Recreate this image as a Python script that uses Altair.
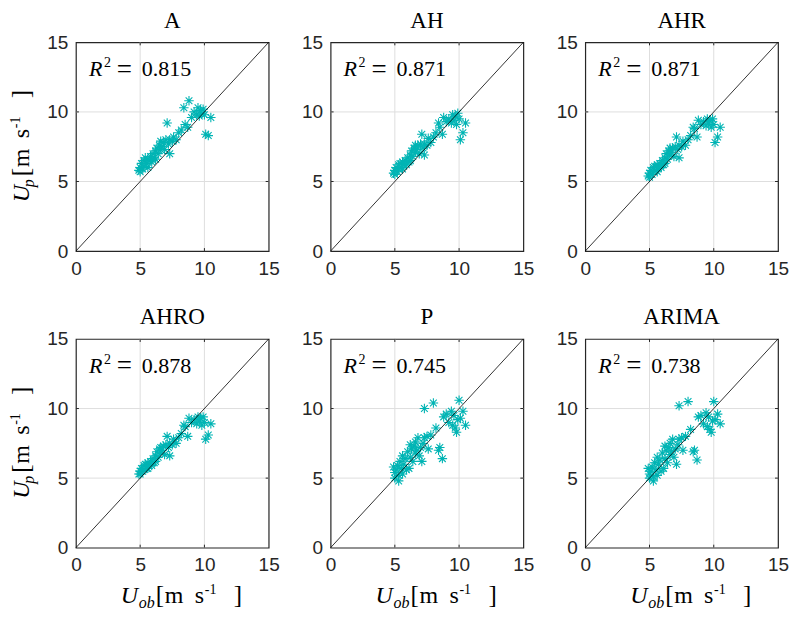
import altair as alt
import pandas as pd

PANELS = ["A", "AH", "AHR", "AHRO", "P", "ARIMA"]
R2_VALUES = ["0.815", "0.871", "0.871", "0.878", "0.745", "0.738"]

OBS = [4.9, 5.0, 5.0, 5.1, 5.2, 5.3, 5.3, 5.4, 5.5, 5.6,
       5.6, 5.7, 5.8, 5.9, 6.0, 6.1, 6.2, 6.2, 6.3, 6.4,
       6.5, 6.6, 6.6, 6.7, 6.8, 6.9, 7.0, 7.1, 7.2, 7.3,
       7.3, 7.5, 7.6, 7.8, 8.0, 8.2, 8.5, 8.7, 8.8, 9.0,
       9.2, 9.4, 9.5, 9.6, 9.7, 9.8, 9.9, 10.0, 10.1, 10.3,
       10.5, 8.4]

PRED_A = [5.8, 6.0, 5.7, 6.3, 5.9, 6.5, 6.1, 6.7, 6.3, 6.6,
          6.0, 6.5, 6.8, 6.4, 7.0, 6.7, 7.2, 6.6, 7.4, 7.0,
          7.6, 7.3, 7.9, 7.5, 7.8, 7.3, 8.0, 9.2, 7.7, 7.0,
          8.0, 7.9, 8.2, 8.0, 8.5, 8.7, 9.1, 8.9, 10.8, 9.6,
          10.0, 9.8, 10.3, 9.7, 10.1, 9.9, 10.2, 9.8, 8.4, 8.3,
          9.6, 10.3]
PRED_AH = [5.6, 5.8, 5.5, 6.0, 5.7, 6.2, 5.9, 6.3, 6.0, 6.4,
           5.9, 6.2, 6.5, 6.2, 6.7, 6.4, 6.9, 6.5, 7.2, 6.8,
           7.4, 7.1, 7.6, 7.3, 7.6, 7.0, 7.7, 8.4, 7.4, 6.9,
           7.7, 7.6, 8.1, 7.8, 8.2, 8.5, 8.9, 8.4, 9.6, 9.3,
           9.5, 9.2, 9.8, 9.4, 9.7, 9.1, 9.9, 9.5, 8.0, 8.5,
           9.2, 9.2]
PRED_AHR = [5.4, 5.6, 5.3, 5.8, 5.5, 6.0, 5.7, 6.1, 5.8, 6.2,
            5.7, 6.0, 6.3, 6.0, 6.5, 6.2, 6.7, 6.3, 7.0, 6.6,
            7.2, 6.9, 7.4, 7.1, 7.4, 6.8, 7.5, 8.2, 7.3, 6.7,
            7.6, 7.5, 7.9, 7.6, 8.0, 8.3, 8.8, 8.2, 9.4, 9.1,
            9.3, 9.0, 9.5, 9.2, 9.4, 8.9, 9.5, 9.1, 7.8, 8.2,
            8.9, 8.9]
PRED_AHRO = [5.3, 5.5, 5.3, 5.7, 5.5, 5.9, 5.6, 6.0, 5.7, 6.1,
             5.7, 5.9, 6.2, 5.9, 6.4, 6.1, 6.6, 6.2, 6.9, 6.5,
             7.1, 6.8, 7.2, 7.0, 7.3, 6.7, 7.4, 8.0, 7.2, 6.6,
             7.5, 7.4, 7.8, 7.5, 7.9, 8.2, 8.7, 8.0, 9.3, 9.0,
             9.2, 8.9, 9.4, 9.1, 9.3, 8.8, 9.4, 9.0, 7.8, 8.1,
             8.9, 8.8]
PRED_P = [5.8, 5.4, 5.0, 5.6, 5.9, 4.8, 5.2, 6.2, 5.7, 6.6,
          5.3, 6.0, 6.4, 5.6, 6.9, 5.7, 7.4, 6.5, 7.1, 6.2,
          7.3, 6.8, 7.6, 7.0, 7.9, 6.6, 7.2, 6.2, 7.5, 10.0,
          7.9, 8.0, 7.1, 8.1, 10.4, 8.6, 7.2, 6.4, 9.4, 9.6,
          9.0, 9.8, 8.8, 9.5, 8.6, 8.3, 9.2, 10.6, 9.3, 9.8,
          8.8, 7.0]
PRED_ARIMA = [5.7, 5.3, 5.0, 5.5, 5.8, 4.8, 5.1, 6.1, 5.6, 6.5,
              5.2, 6.0, 6.3, 5.5, 6.8, 5.7, 7.3, 6.4, 7.0, 6.1,
              7.2, 6.7, 7.5, 6.9, 7.8, 6.5, 7.1, 6.0, 7.4, 10.2,
              7.8, 7.9, 7.0, 8.0, 10.5, 8.5, 7.0, 6.3, 9.4, 9.5,
              8.9, 9.7, 8.7, 9.4, 8.5, 8.3, 9.1, 10.5, 9.2, 9.6,
              8.9, 6.9]
PREDS = [PRED_A, PRED_AH, PRED_AHR, PRED_AHRO, PRED_P, PRED_ARIMA]

AXIS_TICKS = [0, 5, 10, 15]
INNER_TICKS = [5, 10]
DIAG = [0, 15]

W, H = 193, 209
TEAL = "#00b4b4"
DARK = "#262626"
SERIF = "Liberation Serif"
SANS = "Liberation Sans"
ASTERISK = "M-1,0L1,0M0,-1L0,1M-0.71,-0.71L0.71,0.71M-0.71,0.71L0.71,-0.71"

XS = alt.Scale(domain=[0, 15], nice=False, zero=False)
YS = alt.Scale(domain=[0, 15], nice=False, zero=False)
X_AX = alt.Axis(values=AXIS_TICKS, title=None, grid=False, ticks=False, domain=False,
                labelFont=SANS, labelFontSize=19, labelColor=DARK, labelPadding=8,
                labelFlush=False, labelOverlap=False, format="d")
Y_AX = alt.Axis(values=AXIS_TICKS, title=None, grid=False, ticks=False, domain=False,
                labelFont=SANS, labelFontSize=19, labelColor=DARK, labelPadding=8,
                labelFlush=False, labelOverlap=False, format="d")

ONE = pd.DataFrame({"k": [0]})
TICK_DF = pd.DataFrame({"t": INNER_TICKS})
DIAG_DF = pd.DataFrame({"v": DIAG})


def txt(s, x, y, size, italic=False, angle=None, align="left"):
    kw = dict(align=align, baseline="alphabetic", font=SERIF, fontSize=size, color="black")
    if italic:
        kw["fontStyle"] = "italic"
    if angle is not None:
        kw["angle"] = angle
    return alt.Chart(ONE).mark_text(**kw).encode(
        x=alt.value(x), y=alt.value(y), text=alt.value(s))


def panel(i, show_x_title, show_y_title):
    df = pd.DataFrame({"obs": OBS, "pred": PREDS[i]})
    layers = []
    # grid
    layers.append(alt.Chart(TICK_DF).mark_rule(color="#dedede", strokeWidth=1).encode(
        x=alt.X("t:Q", scale=XS, axis=X_AX)))
    layers.append(alt.Chart(TICK_DF).mark_rule(color="#dedede", strokeWidth=1).encode(
        y=alt.Y("t:Q", scale=YS, axis=Y_AX)))
    # points
    layers.append(alt.Chart(df).mark_point(shape=ASTERISK, filled=False, size=90,
                                           strokeWidth=1.1, color=TEAL, opacity=1).encode(
        x=alt.X("obs:Q", scale=XS, axis=X_AX),
        y=alt.Y("pred:Q", scale=YS, axis=Y_AX)))
    # 1:1 line
    layers.append(alt.Chart(DIAG_DF).mark_line(color="black", strokeWidth=0.8).encode(
        x=alt.X("v:Q", scale=XS, axis=X_AX),
        y=alt.Y("v:Q", scale=YS, axis=Y_AX)))
    # inward ticks
    layers.append(alt.Chart(TICK_DF).mark_rule(color=DARK, strokeWidth=1).encode(
        x=alt.X("t:Q", scale=XS, axis=X_AX), y=alt.value(H), y2=alt.value(H - 3)))
    layers.append(alt.Chart(TICK_DF).mark_rule(color=DARK, strokeWidth=1).encode(
        x=alt.X("t:Q", scale=XS, axis=X_AX), y=alt.value(0), y2=alt.value(3)))
    layers.append(alt.Chart(TICK_DF).mark_rule(color=DARK, strokeWidth=1).encode(
        y=alt.Y("t:Q", scale=YS, axis=Y_AX), x=alt.value(0), x2=alt.value(3)))
    layers.append(alt.Chart(TICK_DF).mark_rule(color=DARK, strokeWidth=1).encode(
        y=alt.Y("t:Q", scale=YS, axis=Y_AX), x=alt.value(W), x2=alt.value(W - 3)))
    # panel title
    layers.append(txt(PANELS[i], W / 2, -14.5, 23, align="center"))
    # R^2 annotation
    layers.append(txt("R", 13, 34, 22, italic=True))
    layers.append(txt("2", 28, 25, 14))
    layers.append(txt("=", 41, 35.5, 27))
    layers.append(txt(R2_VALUES[i], 66, 34, 22))
    if show_x_title:
        b = H + 55
        layers += [
            txt("U", 45, b, 24, italic=True),
            txt("ob", 63, b + 5, 16, italic=True),
            txt("[", 80, b, 25),
            txt("m", 89, b, 24),
            txt("s", 119, b, 24),
            txt("-1", 129, b - 9, 14),
            txt("]", 158, b, 25),
        ]
    if show_y_title:
        bx = -47
        layers += [
            txt("U", bx, 160, 24, italic=True, angle=270),
            txt("p", bx + 5, 145, 16, italic=True, angle=270),
            txt("[", bx, 134, 25, angle=270),
            txt("m", bx, 125, 24, angle=270),
            txt("s", bx, 96, 24, angle=270),
            txt("-1", bx - 9, 86, 14, angle=270),
            txt("]", bx, 56, 25, angle=270),
        ]
    return alt.layer(*layers).properties(width=W, height=H)


panels = [panel(0, False, True), panel(1, False, False), panel(2, False, False),
          panel(3, True, True), panel(4, True, False), panel(5, True, False)]

chart = alt.concat(*panels, columns=3, spacing={"row": 88, "column": 62},
                   bounds="flush").properties(
    padding={"left": 0, "top": 0, "right": 0, "bottom": 0},
    background="white",
).configure_view(stroke=DARK, strokeWidth=1.2)

chart.save("out.html", embed_options={"renderer": "svg", "actions": False})
